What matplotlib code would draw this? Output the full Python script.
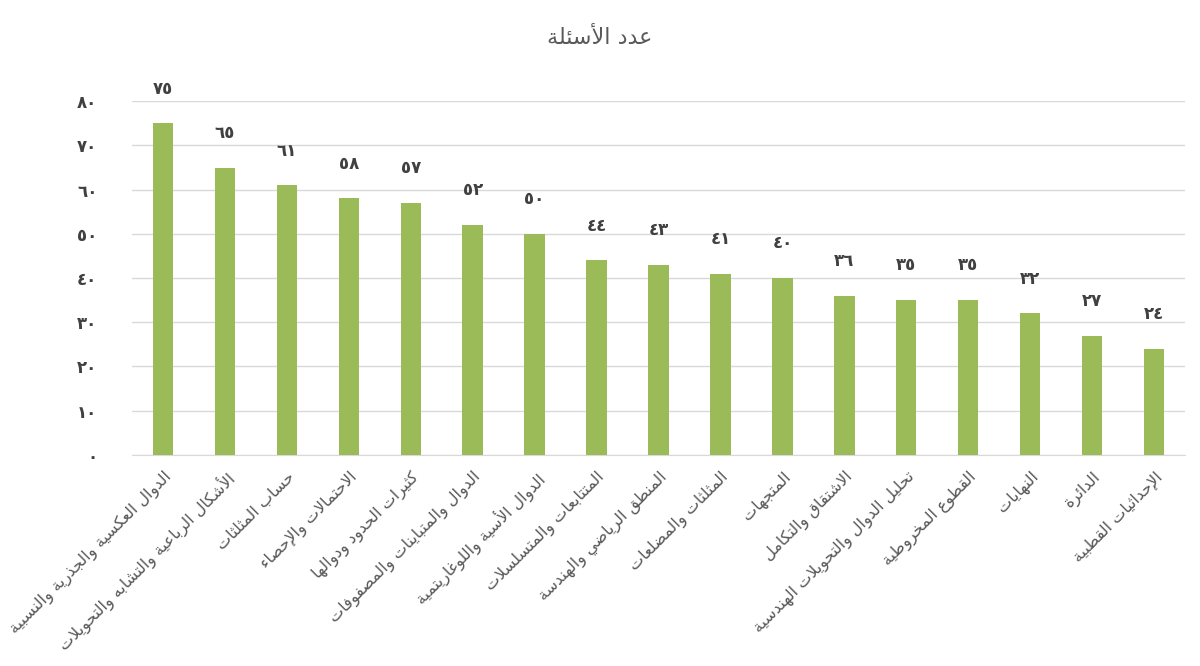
import matplotlib
matplotlib.use("Agg")
import matplotlib.pyplot as plt

# ---------------- data ----------------
title = "عدد الأسئلة"
categories = [
    "الدوال العكسية والجذرية والنسبية",
    "الأشكال الرباعية والتشابه والتحويلات",
    "حساب المثلثات",
    "الاحتمالات والإحصاء",
    "كثيرات الحدود ودوالها",
    "الدوال والمتباينات والمصفوفات",
    "الدوال الأسية واللوغاريتمية",
    "المتتابعات والمتسلسلات",
    "المنطق الرياضي والهندسة",
    "المثلثات والمضلعات",
    "المتجهات",
    "الاشتقاق والتكامل",
    "تحليل الدوال والتحويلات الهندسية",
    "القطوع المخروطية",
    "النهايات",
    "الدائرة",
    "الإحداثيات القطبية",
]
values = [75, 65, 61, 58, 57, 52, 50, 44, 43, 41, 40, 36, 35, 35, 32, 27, 24]
y_ticks = [0, 10, 20, 30, 40, 50, 60, 70, 80]

# ---------------- simple Arabic shaping ----------------
# base codepoint of isolated form in Presentation Forms-B; (base, dual_joining)
FORMS = {
    'ء': (0xFE80, None), 'آ': (0xFE81, False), 'أ': (0xFE83, False), 'ؤ': (0xFE85, False),
    'إ': (0xFE87, False), 'ئ': (0xFE89, True), 'ا': (0xFE8D, False), 'ب': (0xFE8F, True),
    'ة': (0xFE93, False), 'ت': (0xFE95, True), 'ث': (0xFE99, True), 'ج': (0xFE9D, True),
    'ح': (0xFEA1, True), 'خ': (0xFEA5, True), 'د': (0xFEA9, False), 'ذ': (0xFEAB, False),
    'ر': (0xFEAD, False), 'ز': (0xFEAF, False), 'س': (0xFEB1, True), 'ش': (0xFEB5, True),
    'ص': (0xFEB9, True), 'ض': (0xFEBD, True), 'ط': (0xFEC1, True), 'ظ': (0xFEC5, True),
    'ع': (0xFEC9, True), 'غ': (0xFECD, True), 'ف': (0xFED1, True), 'ق': (0xFED5, True),
    'ك': (0xFED9, True), 'ل': (0xFEDD, True), 'م': (0xFEE1, True), 'ن': (0xFEE5, True),
    'ه': (0xFEE9, True), 'و': (0xFEED, False), 'ى': (0xFEEF, False), 'ي': (0xFEF1, True),
}
LAM_ALEF = {'آ': 0xFEF5, 'أ': 0xFEF7, 'إ': 0xFEF9, 'ا': 0xFEFB}


def shape(text):
    # merge lam-alef into ligature tokens
    tokens = []
    i = 0
    while i < len(text):
        c = text[i]
        if c == 'ل' and i + 1 < len(text) and text[i + 1] in LAM_ALEF:
            tokens.append(('LA', text[i + 1]))
            i += 2
        else:
            tokens.append(('C', c))
            i += 1

    def joins_left(tok):  # can connect to the following letter
        if tok[0] == 'LA':
            return False
        f = FORMS.get(tok[1])
        return bool(f and f[1])

    def joining(tok):
        if tok[0] == 'LA':
            return True
        f = FORMS.get(tok[1])
        return bool(f and f[1] is not None)

    out = []
    for k, tok in enumerate(tokens):
        prev = tokens[k - 1] if k > 0 else None
        nxt = tokens[k + 1] if k + 1 < len(tokens) else None
        con_prev = prev is not None and joins_left(prev) and joining(tok)
        if tok[0] == 'LA':
            base = LAM_ALEF[tok[1]]
            out.append(chr(base + (1 if con_prev else 0)))
            continue
        c = tok[1]
        f = FORMS.get(c)
        if f is None or f[1] is None:
            out.append(c)
            continue
        base, dual = f
        con_next = dual and nxt is not None and joining(nxt)
        if con_prev and con_next:
            off = 3
        elif con_prev:
            off = 1
        elif con_next:
            off = 2
        else:
            off = 0
        out.append(chr(base + off))
    return ''.join(reversed(out))


def arabic_digits(n):
    return ''.join(chr(0x0660 + int(d)) for d in str(n))


plt.rcParams['font.family'] = ['DejaVu Sans']

fig = plt.figure(figsize=(12, 6.66), dpi=100)
ax = fig.add_axes([0.11, 0.317, 0.8775, 0.531])

x = list(range(len(categories)))
bars = ax.bar(x, values, width=0.33, color='#9BBB59', zorder=3)

ax.set_xlim(-0.5, len(categories) - 0.5)
ax.set_ylim(0, 80)
ax.set_yticks(y_ticks)
ax.set_yticklabels([arabic_digits(v) for v in y_ticks], fontsize=12,
                   color='#404040', fontweight='bold')
ax.tick_params(axis='y', length=0, pad=25)
ax.yaxis.grid(True, color='#d9d9d9', linewidth=1, zorder=0)
ax.set_axisbelow(True)

ax.set_xticks(x)
ax.set_xticklabels([shape(c) for c in categories], rotation=45, ha='right',
                   rotation_mode='anchor', fontsize=11.5, color='#595959')
ax.tick_params(axis='x', length=0, pad=10)

for s in ['top', 'right', 'left']:
    ax.spines[s].set_visible(False)
ax.spines['bottom'].set_color('#d9d9d9')

for xi, v in zip(x, values):
    ax.annotate(arabic_digits(v), (xi, v), xytext=(0, 25), textcoords='offset points',
                ha='center', va='center', fontsize=12, fontweight='bold', color='#404040')

fig.text(0.5, 0.943, shape(title), ha='center', va='center', fontsize=16, color='#595959')

fig.savefig('out.png', dpi=100, facecolor='white')
